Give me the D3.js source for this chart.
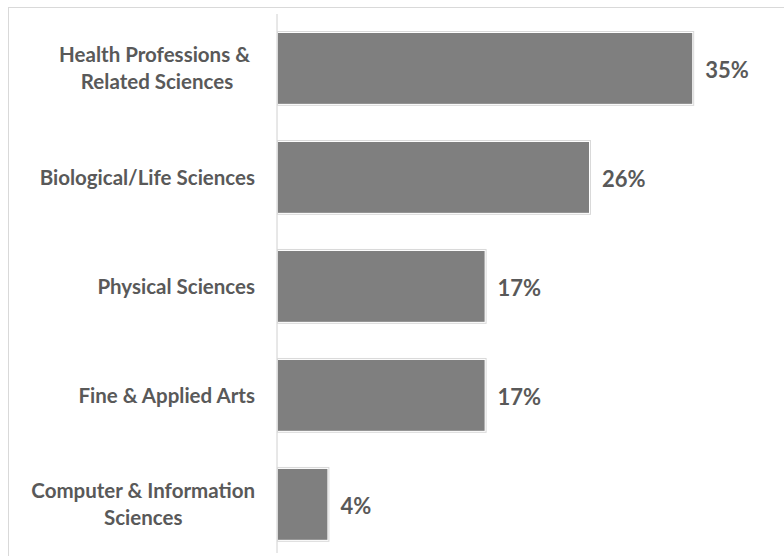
<!DOCTYPE html>
<meta charset="utf-8">
<title>Majors</title>
<style>
body { margin: 0; background: #fff; }
text { font-family: Lato, "Open Sans", sans-serif; font-weight: bold; fill: #595959; white-space: pre; }
</style>
<svg width="784" height="556"></svg>
<script src="https://cdn.jsdelivr.net/npm/d3@7"></script>
<script>

// category labels (wrapped lines split on |)
var categories = [
  "Health Professions & |Related Sciences",
  "Biological/Life Sciences",
  "Physical Sciences",
  "Fine & Applied Arts",
  "Computer & Information|Sciences"
];
// share of students, percent
var shares = [34.6, 26.0, 17.3, 17.3, 4.2];

var svg = d3.select("svg"),
    width = +svg.attr("width"),
    height = +svg.attr("height");

var data = categories.map(function(c, i) { return {cat: c, value: shares[i]}; });

//chart frame
svg.append("rect")
    .attr("x", 8.5).attr("y", 7.5)
    .attr("width", width).attr("height", height)
    .attr("fill", "none")
    .attr("stroke", "#d9d9d9");

var x = d3.scaleLinear()
    .domain([0, 35])
    .range([277, 277 + 35 * 12]);

var y = d3.scaleBand()
    .domain(categories)
    .range([11.2, 561.6])
    .paddingInner(0.35)
    .paddingOuter(0.2);

// axis line
svg.append("line")
    .attr("x1", x(0)).attr("x2", x(0))
    .attr("y1", 14).attr("y2", 553)
    .attr("stroke", "#d0d0d0");

var bars = svg.append("g").selectAll("g")
    .data(data)
    .enter().append("g");

//outer light edge
bars.append("rect")
    .attr("x", x(0) + 0.5)
    .attr("y", function(d) { return y(d.cat) - 1.5; })
    .attr("width", function(d) { return x(d.value) - x(0) + 1; })
    .attr("height", y.bandwidth() + 3)
    .attr("fill", "#fff")
    .attr("stroke", "#d9d9d9");

bars.append("rect")
    .attr("x", x(0) + 1)
    .attr("y", function(d) { return y(d.cat); })
    .attr("width", function(d) { return x(d.value) - x(0) - 1; })
    .attr("height", y.bandwidth())
    .attr("fill", "#7f7f7f");

bars.append("text")
    .attr("x", function(d) { return x(d.value) + 13; })
    .attr("y", function(d) { return y(d.cat) + y.bandwidth() / 2 + 2; })
    .attr("dy", "0.35em")
    .style("font-size", "22px")
    .text(function(d) { return d3.format(".0f")(d.value) + "%"; });

// category labels, block right-aligned, lines centred in block
var labelRight = 255;
var labels = svg.append("g").selectAll("text")
    .data(data)
    .enter().append("text")
    .attr("text-anchor", "middle")
    .attr("y", function(d) { return y(d.cat) + y.bandwidth() / 2; })
    .style("font-size", "20.5px");

labels.each(function(d) {
  var lines = d.cat.split("|");
  var t = d3.select(this);
  var spans = lines.map(function(l, i) {
    return t.append("tspan")
      .attr("dy", i === 0 ? (0.35 - (lines.length - 1) * 0.66) + "em" : "1.32em")
      .text(l);
  });
  var w = d3.max(spans, function(s) { return s.node().getComputedTextLength(); });
  spans.forEach(function(s) { s.attr("x", labelRight - w / 2); });
});

</script>
